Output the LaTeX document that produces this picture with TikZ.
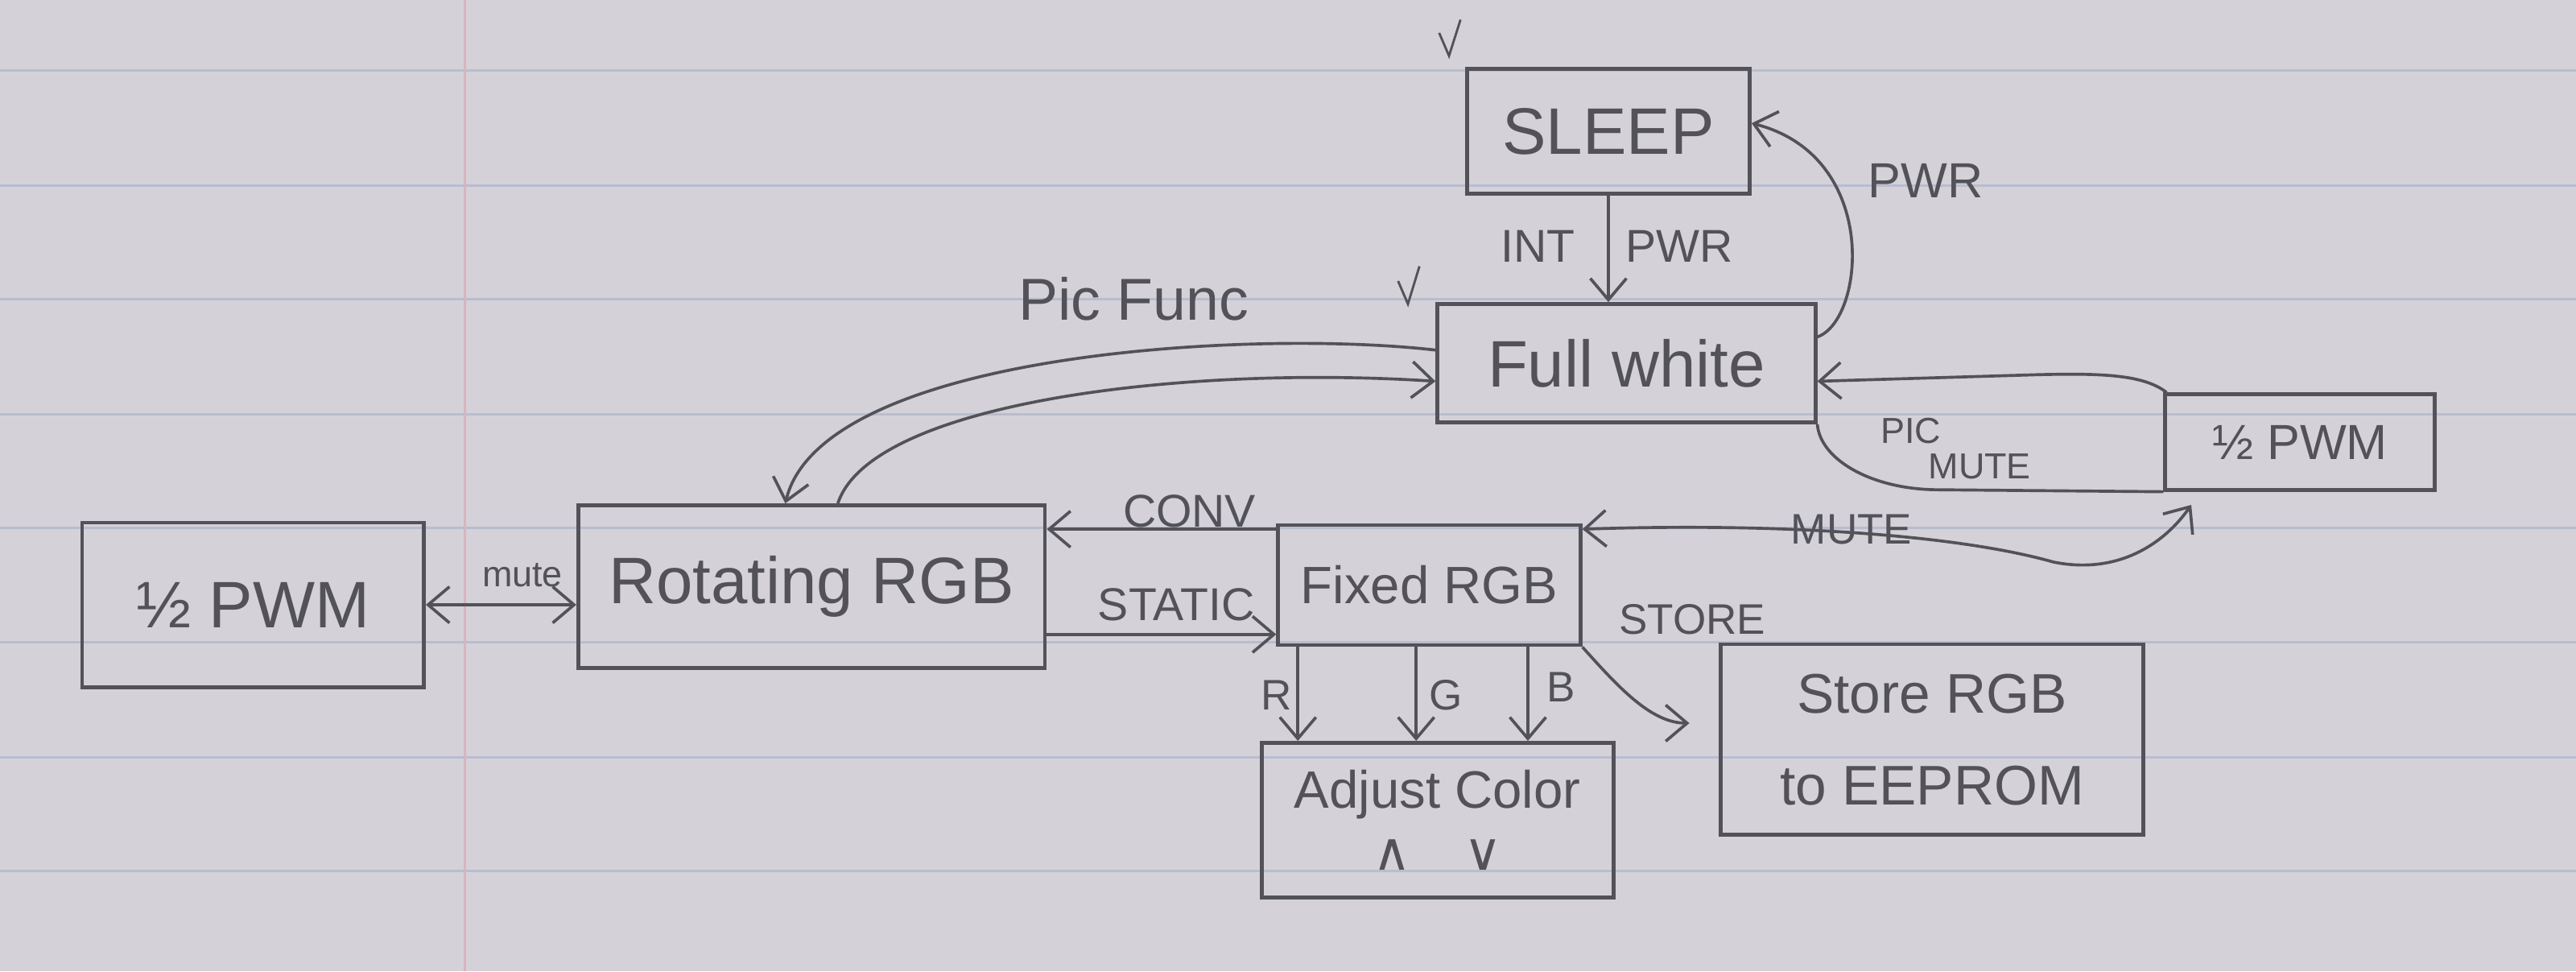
\documentclass[tikz,border=0pt]{standalone}
\usepackage{fontspec}
\setmainfont{Liberation Sans}
\newfontfamily\symf{DejaVu Sans}
\usetikzlibrary{arrows.meta}
\definecolor{paper}{RGB}{212,210,216}
\definecolor{rulec}{RGB}{184,189,206}
\definecolor{marginc}{RGB}{216,180,190}
\definecolor{pencil}{RGB}{82,82,88}
\newcommand{\fsz}[1]{\fontsize{#1}{#1}\selectfont}
\begin{document}
\begin{tikzpicture}[x=1pt,y=-1pt,
  box/.style={draw=pencil, line width=2.4pt, rectangle, inner sep=0pt, text=pencil, font=\fsz{40}},
  lbl/.style={text=pencil, inner sep=0pt},
  pen/.style={draw=pencil, line width=1.8pt},
  arr/.style={pen, -{Straight Barb[length=13pt,width=22pt,line width=1.8pt]}},
  dbl/.style={pen, {Straight Barb[length=13pt,width=22pt,line width=1.8pt]}-{Straight Barb[length=13pt,width=22pt,line width=1.8pt]}}]
% paper
\fill[paper] (0,0) rectangle (1568,591);
\useasboundingbox (0,0) rectangle (1568,591);
\foreach \yy in {43,113,182,252,321,391,461,530}
  \draw[rulec, line width=1.5pt] (0,\yy) -- (1568,\yy);
\draw[marginc, line width=1.5pt] (283,0) -- (283,591);
% ticks
\draw[pencil, line width=1.4pt] (876,20) -- (882,34) -- (889,12);
\draw[pencil, line width=1.4pt] (851,171) -- (857,185) -- (864,162);
% nodes
\node[box, minimum width=172pt, minimum height=76pt] (sleep) at (979,80) {SLEEP};
\node[box, minimum width=230pt, minimum height=72pt] (full) at (990,221) {Full white};
\node[box, minimum width=284pt, minimum height=99pt] (rot) at (494,357) {Rotating RGB};
\node[box, minimum width=208pt, minimum height=100pt] (lpwm) at (154,368) {½ PWM};
\node[box, minimum width=184pt, minimum height=73pt, font=\fsz{32}] (fixed) at (870,356) {Fixed RGB};
\node[box, minimum width=164pt, minimum height=58pt, font=\fsz{30}] (rpwm) at (1400,269) {½ PWM};
\node[box, minimum width=257pt, minimum height=116pt, align=center, font=\fontsize{34}{56}\selectfont] (store) at (1176,450) {Store RGB\\to EEPROM};
\node[box, minimum width=214pt, minimum height=94pt, align=center, font=\fontsize{32}{38}\selectfont] (adjust) at (875,499) {Adjust Color\\{\symf ∧\quad ∨}};
% connectors
\draw[arr] (sleep.south) -- (sleep.south |- full.north);
\draw[arr] ([yshift=16pt]full.east) .. controls (1135,195) and (1145,95) .. ([yshift=5pt]sleep.east);
\draw[arr] ([yshift=8pt]full.west) .. controls (760,200) and (500,215) .. ([xshift=-16pt]rot.north);
\draw[arr] ([xshift=16pt]rot.north) .. controls (530,245) and (720,222) .. ([yshift=-11pt]full.west);
\draw[dbl] (lpwm.east) -- (lpwm.east -| rot.west);
\coordinate (cv) at ([yshift=34pt]fixed.west);
\draw[arr] (cv) -- (cv -| rot.east);
\coordinate (st) at ([yshift=-29pt]rot.east);
\draw[arr] (st) -- (st -| fixed.west);
\draw[dbl] ([yshift=34pt]fixed.east) .. controls (1080,318) and (1190,325) .. (1250,342) .. controls (1290,350) and (1318,330) .. ([shift={(17pt,-8pt)}]rpwm.south west);
\draw[arr] ([xshift=2pt]rpwm.north west) .. controls (1305,228) and (1280,227) .. (1240,228) -- ([yshift=-11pt]full.east);
\draw[pen] (full.south east) .. controls (1108,280) and (1140,298) .. (1180,298) -- (rpwm.south west);
\coordinate (cr) at ([xshift=-80pt]fixed.south);
\coordinate (cg) at ([xshift=-8pt]fixed.south);
\coordinate (cb) at ([xshift=60pt]fixed.south);
\draw[arr] (cr) -- (cr |- adjust.north);
\draw[arr] (cg) -- (cg |- adjust.north);
\draw[arr] (cb) -- (cb |- adjust.north);
\draw[arr] (fixed.south east) .. controls (985,418) and (1005,440) .. ([shift={(-18pt,10pt)}]store.west);
% labels
\node[lbl, font=\fsz{28}] (lint) at (936,150) {INT};
\node[lbl, font=\fsz{28}] (lpwr) at (1022,150) {PWR};
\node[lbl, font=\fsz{30}] (lpwr2) at (1172,110) {PWR};
\node[lbl, font=\fsz{36}] (lpic) at (690,182) {Pic Func};
\node[lbl, font=\fsz{22}] (lmute) at (318,350) {mute};
\node[lbl, font=\fsz{28}] (lconv) at (724,311) {CONV};
\node[lbl, font=\fsz{28}] (lstatic) at (716,368) {STATIC};
\node[lbl, font=\fsz{26}] (lmute2) at (1127,322) {MUTE};
\node[lbl, font=\fsz{22}] (lpicm) at (1163,262) {PIC};
\node[lbl, font=\fsz{22}] (lmute3) at (1205,284) {MUTE};
\node[lbl, font=\fsz{26}] (lstore) at (1030,377) {STORE};
\node[lbl, font=\fsz{26}] (lr) at (777,423) {R};
\node[lbl, font=\fsz{26}] (lg) at (880,423) {G};
\node[lbl, font=\fsz{26}] (lb) at (950,418) {B};
\end{tikzpicture}
\end{document}
